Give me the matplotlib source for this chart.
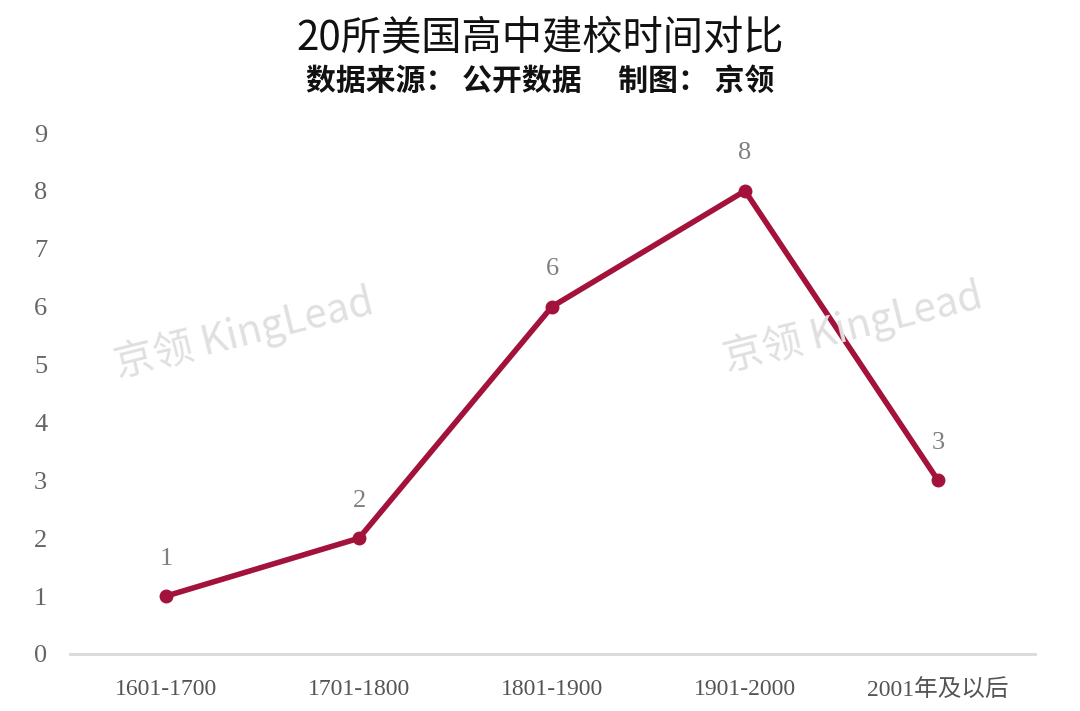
import matplotlib
matplotlib.use("Agg")
import matplotlib.pyplot as plt

categories = ["1601-1700", "1701-1800", "1801-1900", "1901-2000", "2001年及以后"]
counts = [1, 2, 6, 8, 3]
yticks = list(range(0, 10))

title = "20所美国高中建校时间对比"
subtitle = "数据来源： 公开数据　 制图： 京领"
watermark = "京领 KingLead"

line_color = "#A3123A"
serif = ["Liberation Serif", "Noto Sans CJK SC"]
cjk = ["Noto Sans CJK SC", "DejaVu Sans"]

fig = plt.figure(figsize=(10.8, 7.11), dpi=100)
ax = fig.add_axes([69.5 / 1080, 1 - 654 / 711, 965 / 1080, 521 / 711])

x = list(range(len(categories)))
ax.plot(x, counts, color=line_color, lw=4, marker="o", ms=9, zorder=3,
        solid_capstyle="round")
for xi, v in zip(x, counts):
    ax.annotate(str(v), (xi, v), xytext=(0, 27), textcoords="offset points",
                ha="center", va="center", fontsize=19, color="#7f7f7f",
                family=serif)

ax.set_xlim(-0.5, 4.5)
ax.set_ylim(0, 9)
ax.set_yticks(yticks)
ax.set_yticklabels([str(t) for t in yticks], family=serif, fontsize=19,
                   color="#666666")
ax.set_xticks(x)
ax.set_xticklabels(categories, family=serif, fontsize=17, color="#555555")
ax.tick_params(axis="both", length=0)
ax.tick_params(axis="y", pad=16)
ax.tick_params(axis="x", pad=18)
for s in ["top", "right", "left"]:
    ax.spines[s].set_visible(False)
ax.spines["bottom"].set_color("#d9d9d9")
ax.spines["bottom"].set_linewidth(2)

for (wx, wy) in [(244, 333), (853, 327)]:
    fig.text(wx / 1080, 1 - wy / 711, watermark, fontsize=29, color="#e0e0e0",
             rotation=14, ha="center", va="center", family=cjk, zorder=0)

fig.text(0.5, 1 - 38 / 711, title, fontsize=29, ha="center", va="center",
         family=cjk, fontweight="medium", color="#111111")
fig.text(0.5, 1 - 81 / 711, subtitle, fontsize=21.5, ha="center", va="center",
         family=cjk, fontweight="bold", color="#111111")

fig.savefig("out.png", dpi=100, facecolor="white")
